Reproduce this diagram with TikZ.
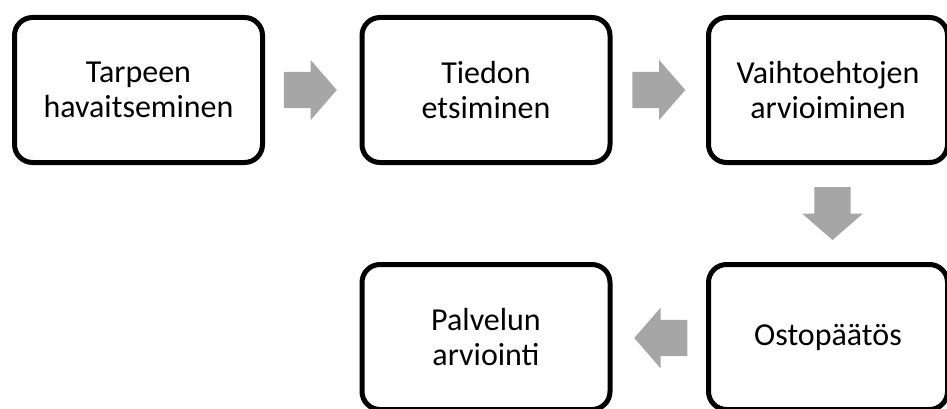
\documentclass[tikz,border=0pt]{standalone}
\usepackage{fontspec}
\setmainfont{Carlito}
\usetikzlibrary{shapes.arrows,calc}

\definecolor{flowgray}{HTML}{A6A6A6}
\tikzset{
  stage/.style={draw,line width=5pt,rounded corners=18pt,minimum width=248pt,minimum height=145pt,
    align=center,inner sep=0pt,font=\fontsize{32}{35}\selectfont},
  blockarrow/.style={single arrow,fill=flowgray,draw=none,minimum height=53pt,minimum width=60pt,
    single arrow head extend=12pt,single arrow tip angle=98,inner sep=18pt,outer sep=0pt,anchor=tail}
}

\begin{document}
\begin{tikzpicture}[x=1pt,y=-1pt]
  \useasboundingbox (0,0) rectangle (947,409);
  \clip (0,0) rectangle (947,409);
  % the five stages
  \node[stage] (need) at (138.5,90) {Tarpeen\\havaitseminen};
  \node[stage] (info) at (486,90) {Tiedon\\etsiminen};
  \node[stage,minimum width=239pt] (alt) at (828,90) {Vaihtoehtojen\\arvioiminen};
  \node[stage,minimum width=239pt] (buy) at (828,337) {Ostopäätös};
  \node[stage] (eval) at (486,337) {Palvelun\\arviointi};
  % block arrows between them, placed by their tails
  \node[blockarrow] (a1) at ($(need.east)!.5!(info.west)+(-28.5,0)$) {};
  \node[blockarrow] (a2) at ($(info.east)!.5!(alt.west)+(-27,0)$) {};
  \node[blockarrow,shape border rotate=270] (a3) at ($(alt.south)!.5!(buy.north)+(4.5,-26.5)$) {};
  \node[blockarrow,shape border rotate=180] (a4) at ($(buy.west)!.5!(eval.east)+(28,1)$) {};
\end{tikzpicture}
\end{document}
